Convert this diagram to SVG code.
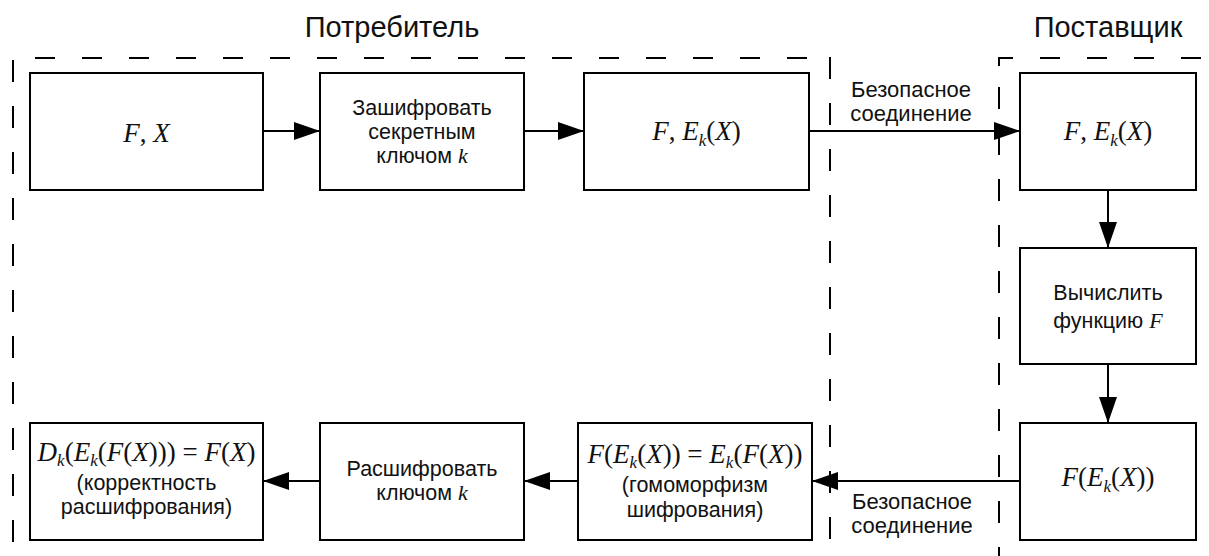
<svg xmlns="http://www.w3.org/2000/svg" width="1209" height="556" viewBox="0 0 1209 556">
<style>
.box{fill:#fff;stroke:#000;stroke-width:2}
.lbl{font-family:"Liberation Sans",Arial,sans-serif;font-size:21.5px;fill:#111;text-anchor:middle}
.cl{font-size:22px}
.title{font-family:"Liberation Sans",Arial,sans-serif;font-size:29px;fill:#111;text-anchor:middle}
.m{font-family:"Liberation Serif","Times New Roman",serif;font-size:27px;font-style:italic;fill:#111;text-anchor:middle}
.n{font-style:normal}
.sub{font-size:17px}
.mi{font-family:"Liberation Serif","Times New Roman",serif;font-style:italic;font-size:22px}
.edge{stroke:#000;stroke-width:2;fill:none;marker-end:url(#ah)}
.dh{stroke:#000;stroke-width:2;fill:none;stroke-dasharray:20 27}
.dv{stroke:#000;stroke-width:2;fill:none;stroke-dasharray:22 24}
</style>
<defs>
<marker id="ah" markerUnits="userSpaceOnUse" markerWidth="28" markerHeight="20" refX="26" refY="9" orient="auto">
<path d="M0,0 L26,9 L0,18 z" fill="#000"/>
</marker>
</defs>
<rect width="1209" height="556" fill="#fff"/>
<g id="regions">
<line class="dh" x1="35" y1="58" x2="830" y2="58"/>
<line class="dv" x1="13" y1="60" x2="13" y2="556"/>
<line class="dv" x1="830" y1="57" x2="830" y2="556"/>
<line class="dh" x1="1040" y1="58" x2="1209" y2="58" stroke-dasharray="23 24"/>
<path d="M1013,58 H999 V66" stroke="#000" stroke-width="2" fill="none"/>
<line class="dv" x1="999" y1="87" x2="999" y2="556" stroke-dasharray="18 28"/>
<text class="title" x="392" y="37">Потребитель</text>
<text class="title" x="1108" y="37">Поставщик</text>
</g>
<g id="connectors">
<line class="edge" x1="263" y1="131" x2="320" y2="131"/>
<line class="edge" x1="524" y1="131" x2="584" y2="131"/>
<line class="edge" x1="809" y1="131" x2="1020" y2="131"/>
<line class="edge" x1="1108" y1="190" x2="1108" y2="248"/>
<line class="edge" x1="1108" y1="364" x2="1108" y2="423"/>
<line class="edge" x1="1020" y1="481" x2="812" y2="481"/>
<line class="edge" x1="578" y1="481" x2="524" y2="481"/>
<line class="edge" x1="320" y1="481" x2="263" y2="481"/>
<text class="lbl cl" x="911" y="97">Безопасное</text>
<text class="lbl cl" x="911" y="121">соединение</text>
<text class="lbl cl" x="912" y="509">Безопасное</text>
<text class="lbl cl" x="912" y="533">соединение</text>
</g>
<g id="n1">
<rect class="box" x="30" y="73" width="233" height="117"/>
<text class="m" x="146.5" y="142">F<tspan class="n">,</tspan> X</text>
</g>
<g id="n2">
<rect class="box" x="320" y="73" width="204" height="117"/>
<text class="lbl" x="422" y="115">Зашифровать</text>
<text class="lbl" x="422" y="139">секретным</text>
<text class="lbl" x="422" y="163">ключом <tspan class="mi">k</tspan></text>
</g>
<g id="n3">
<rect class="box" x="584" y="73" width="225" height="117"/>
<text class="m" x="696.5" y="140">F<tspan class="n">,</tspan> E<tspan class="sub" dy="6">k</tspan><tspan class="n" dy="-6">(</tspan>X<tspan class="n">)</tspan></text>
</g>
<g id="n4">
<rect class="box" x="1020" y="73" width="176" height="117"/>
<text class="m" x="1108" y="140">F<tspan class="n">,</tspan> E<tspan class="sub" dy="6">k</tspan><tspan class="n" dy="-6">(</tspan>X<tspan class="n">)</tspan></text>
</g>
<g id="n5">
<rect class="box" x="1020" y="248" width="176" height="116"/>
<text class="lbl" x="1108" y="300">Вычислить</text>
<text class="lbl" x="1108" y="328">функцию <tspan class="mi">F</tspan></text>
</g>
<g id="n6">
<rect class="box" x="1020" y="423" width="176" height="117"/>
<text class="m" x="1108" y="486">F<tspan class="n">(</tspan>E<tspan class="sub" dy="6">k</tspan><tspan class="n" dy="-6">(</tspan>X<tspan class="n">))</tspan></text>
</g>
<g id="n7">
<rect class="box" x="30" y="423" width="233" height="117"/>
<text class="m" x="146.5" y="461">D<tspan class="sub" dy="5">k</tspan><tspan class="n" dy="-5">(</tspan>E<tspan class="sub" dy="5">k</tspan><tspan class="n" dy="-5">(</tspan>F<tspan class="n">(</tspan>X<tspan class="n">))) = </tspan>F<tspan class="n">(</tspan>X<tspan class="n">)</tspan></text>
<text class="lbl" x="146.5" y="490">(корректность</text>
<text class="lbl" x="146.5" y="514">расшифрования)</text>
</g>
<g id="n8">
<rect class="box" x="320" y="423" width="204" height="117"/>
<text class="lbl" x="422" y="476">Расшифровать</text>
<text class="lbl" x="422" y="500">ключом <tspan class="mi">k</tspan></text>
</g>
<g id="n9">
<rect class="box" x="578" y="423" width="234" height="117"/>
<text class="m" x="695" y="463">F<tspan class="n">(</tspan>E<tspan class="sub" dy="5">k</tspan><tspan class="n" dy="-5">(</tspan>X<tspan class="n">)) = </tspan>E<tspan class="sub" dy="5">k</tspan><tspan class="n" dy="-5">(</tspan>F<tspan class="n">(</tspan>X<tspan class="n">))</tspan></text>
<text class="lbl" x="695" y="492">(гомоморфизм</text>
<text class="lbl" x="695" y="517">шифрования)</text>
</g>
</svg>
